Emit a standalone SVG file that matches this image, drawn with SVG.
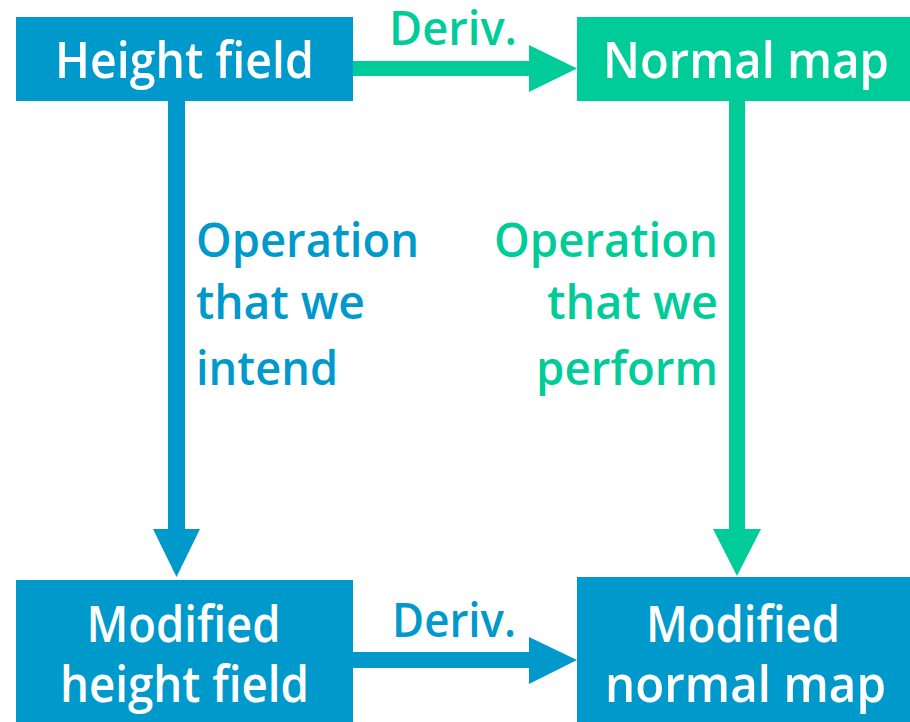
<svg xmlns="http://www.w3.org/2000/svg" width="910" height="722" viewBox="0 0 910 722">
  <style>
    .blue { fill: #0099cc; }
    .green { fill: #00cc99; }
    .box-text { font-family: "Open Sans", "Noto Sans", "Liberation Sans", sans-serif; font-weight: 600; font-size: 50px; fill: #ffffff; text-anchor: middle; }
    .label { font-family: "Open Sans", "Noto Sans", "Liberation Sans", sans-serif; font-weight: 600; font-size: 47px; }
  </style>

  <!-- nodes -->
  <g id="height-field">
    <rect class="blue" x="16" y="17" width="337" height="84"/>
    <text class="box-text" x="184.5" y="78" textLength="259" lengthAdjust="spacingAndGlyphs">Height field</text>
  </g>
  <g id="normal-map">
    <rect class="green" x="577" y="17" width="333" height="84"/>
    <text class="box-text" x="746" y="78" textLength="286" lengthAdjust="spacingAndGlyphs">Normal map</text>
  </g>
  <g id="modified-height-field">
    <rect class="blue" x="16" y="580" width="337" height="142"/>
    <text class="box-text" x="183.5" y="642" textLength="194" lengthAdjust="spacingAndGlyphs">Modified</text>
    <text class="box-text" x="184.5" y="702" textLength="249" lengthAdjust="spacingAndGlyphs">height field</text>
  </g>
  <g id="modified-normal-map">
    <rect class="blue" x="577" y="577" width="333" height="145"/>
    <text class="box-text" x="743" y="642" textLength="194" lengthAdjust="spacingAndGlyphs">Modified</text>
    <text class="box-text" x="745.5" y="702" textLength="281" lengthAdjust="spacingAndGlyphs">normal map</text>
  </g>

  <!-- connectors -->
  <g id="connectors">
    <!-- top: height field to normal map -->
    <rect class="green" x="353" y="61" width="177" height="15"/>
    <polygon class="green" points="529,45 577,68.5 529,92"/>
    <!-- bottom: modified height field to modified normal map -->
    <rect class="blue" x="353" y="652" width="177" height="16"/>
    <polygon class="blue" points="529,637 577,660 529,684"/>
    <!-- left: intended operation -->
    <rect class="blue" x="168" y="101" width="17" height="429"/>
    <polygon class="blue" points="153,529 200,529 176.5,577"/>
    <!-- right: performed operation -->
    <rect class="green" x="729" y="101" width="16" height="429"/>
    <polygon class="green" points="713,529 761,529 737,576"/>

    <!-- connector labels -->
    <text class="label green" x="389" y="45" textLength="128" lengthAdjust="spacingAndGlyphs">Deriv.</text>
    <text class="label blue" x="392" y="637" textLength="124" lengthAdjust="spacingAndGlyphs">Deriv.</text>

    <text class="label blue" x="196" y="257" textLength="223" lengthAdjust="spacingAndGlyphs">Operation</text>
    <text class="label blue" x="196" y="319" textLength="169" lengthAdjust="spacingAndGlyphs">that we</text>
    <text class="label blue" x="196" y="385" textLength="142" lengthAdjust="spacingAndGlyphs">intend</text>

    <text class="label green" x="718" y="257" text-anchor="end" textLength="224" lengthAdjust="spacingAndGlyphs">Operation</text>
    <text class="label green" x="718" y="319" text-anchor="end" textLength="171" lengthAdjust="spacingAndGlyphs">that we</text>
    <text class="label green" x="718" y="385" text-anchor="end" textLength="182" lengthAdjust="spacingAndGlyphs">perform</text>
  </g>
</svg>
